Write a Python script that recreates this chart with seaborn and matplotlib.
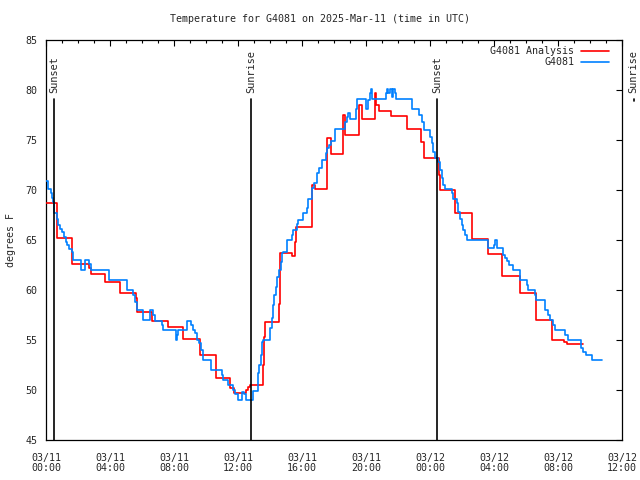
import pandas as pd
import numpy as np
import matplotlib
matplotlib.use("Agg")
import matplotlib.pyplot as plt
import matplotlib.dates as mdates
import seaborn as sns

START = pd.Timestamp("2025-03-11 00:00")

# hourly analysis (hours after 03/11 00:00 UTC, deg F)
analysis_hours = [0.0, 0.67, 1.65, 2.71, 2.79, 3.69, 4.63, 5.6, 5.7, 6.6, 7.65, 8.58,
                  9.63, 10.63, 11.5, 11.75, 12.5, 12.62, 12.72, 13.58, 13.62, 13.67,
                  14.58, 14.62, 15.35, 15.58, 15.62, 16.6, 16.65, 16.8, 17.58, 17.79,
                  18.58, 18.68, 19.58, 19.75, 20.56, 20.65, 20.8, 21.56, 22.58, 23.42,
                  23.6, 24.56, 24.65, 25.56, 26.6, 27.65, 28.48, 29.6, 30.63, 31.6,
                  32.4, 32.55, 33.58]
analysis_temps = [68.67, 65.17, 62.57, 62.23, 61.6, 60.8, 59.67, 59.2, 57.8, 56.93, 56.27, 55.1,
                  53.5, 51.17, 50.17, 49.67, 50.0, 50.3, 50.5, 52.5, 55.33, 56.83,
                  58.6, 63.67, 63.4, 64.83, 66.27, 67.5, 70.5, 70.1, 75.2, 73.6,
                  77.5, 75.5, 78.5, 77.07, 79.7, 78.5, 77.9, 77.4, 76.1, 74.8,
                  73.2, 71.5, 70.0, 67.7, 65.1, 63.6, 61.4, 59.7, 57.0, 55.0,
                  54.8, 54.6, 54.6]

# station observations
obs_hours = [0.0, 0.1, 0.29, 0.4, 0.46, 0.52, 0.67, 0.77, 0.88, 1.02, 1.13, 1.23, 1.33,
             1.46, 1.6, 1.71, 2.17, 2.42, 2.67, 2.79, 3.96, 5.04, 5.46, 5.56, 5.67,
             6.04, 6.5, 6.71, 6.81, 7.23, 7.33, 8.13, 8.2, 8.27, 8.79, 9.06, 9.21,
             9.31, 9.46, 9.58, 9.69, 9.83, 10.29, 10.98, 11.08, 11.4, 11.71, 11.81,
             12.02, 12.25, 12.38, 12.5, 12.92, 13.25, 13.33, 13.44, 13.52, 13.58,
             14.0, 14.1, 14.21, 14.27, 14.35, 14.46, 14.56, 14.67, 14.73, 14.83,
             15.04, 15.35, 15.46, 15.67, 15.77, 16.08, 16.29, 16.4, 16.6, 16.75,
             16.96, 17.04, 17.23, 17.5, 17.58, 17.71, 17.79, 18.06, 18.69, 18.79,
             18.9, 19.0, 19.38, 19.46, 20.0, 20.12, 20.25, 20.31, 20.4, 21.23, 21.29,
             21.4, 21.5, 21.6, 21.71, 21.81, 21.88, 22.85, 23.33, 23.48, 23.63,
             24.0, 24.1, 24.21, 24.31, 24.52, 24.63, 24.73, 24.83, 24.94, 25.35,
             25.46, 25.67, 25.77, 25.88, 25.98, 26.08, 26.19, 26.29, 27.65, 27.98,
             28.08, 28.19, 28.58, 28.69, 28.79, 28.96, 29.17, 29.63, 30.04, 30.15,
             30.56, 30.63, 31.19, 31.4, 31.5, 31.71, 31.81, 32.44, 32.65, 33.42,
             33.56, 33.77, 34.1, 34.73]
obs_temps = [70.9, 70.07, 69.73, 69.17, 68.83, 67.67, 67.07, 66.5, 66.07, 65.83, 65.33, 64.83, 64.5,
             64.1, 63.83, 63.0, 62.0, 63.0, 62.6, 62.0, 61.0, 60.0, 59.5, 58.83, 58.0,
             57.0, 58.0, 57.5, 56.93, 56.5, 56.0, 55.0, 55.5, 56.0, 56.93, 56.5, 56.0,
             55.67, 55.0, 54.67, 54.0, 53.0, 52.0, 51.5, 51.0, 50.5, 50.0, 49.6,
             49.0, 49.8, 49.6, 49.0, 49.93, 51.67, 52.5, 53.5, 54.83, 55.0,
             56.17, 57.17, 58.5, 59.5, 60.33, 61.33, 62.0, 62.83, 63.67, 63.83,
             65.0, 65.5, 66.0, 66.6, 67.0, 67.67, 68.17, 69.07, 70.17, 70.67,
             71.67, 72.17, 73.0, 73.67, 74.17, 74.5, 74.93, 76.07, 76.83, 77.33,
             77.73, 77.07, 78.07, 79.07, 78.07, 79.0, 79.67, 80.07, 79.07, 79.67, 80.07,
             79.67, 80.07, 79.33, 80.07, 79.67, 79.07, 78.07, 77.5, 76.83, 76.0,
             75.3, 74.7, 73.8, 73.2, 72.8, 72.0, 71.2, 70.5, 70.1, 69.7,
             69.1, 68.7, 67.8, 67.1, 66.5, 66.0, 65.5, 65.0, 64.17, 64.5,
             65.0, 64.17, 63.5, 63.2, 62.9, 62.5, 62.0, 61.0, 60.5, 60.0,
             59.5, 59.0, 58.0, 57.5, 57.0, 56.5, 56.0, 55.5, 55.0, 54.2,
             53.8, 53.5, 53.0, 53.0]

event_names = ["Sunset", "Sunrise", "Sunset", "Sunrise"]
event_hours = [0.52, 12.83, 24.46, 36.72]

TICK_HOURS = 4
FONT = "DejaVu Sans Mono"


def to_time(hours):
    return START + pd.to_timedelta(np.asarray(hours), unit="h")


analysis = pd.DataFrame({"time": to_time(analysis_hours), "temp": analysis_temps})
obs = pd.DataFrame({"time": to_time(obs_hours), "temp": obs_temps})

sns.set_theme(style="white")
plt.rcParams["font.family"] = [FONT]
plt.rcParams["font.size"] = 7.2

fig = plt.figure(figsize=(6.4, 4.8), dpi=100)
ax = fig.add_axes([46 / 640, 40 / 480, 576 / 640, 400 / 480])

red = "#ff0000"
blue = "#0080ff"

sns.lineplot(data=analysis, x="time", y="temp", ax=ax, color=red, linewidth=1.2,
             drawstyle="steps-post", estimator=None, zorder=3)
sns.lineplot(data=obs, x="time", y="temp", ax=ax, color=blue, linewidth=1.2,
             drawstyle="steps-post", estimator=None, zorder=4)

ax.set_xlim(START, START + pd.Timedelta(hours=36))
ax.set_ylim(45, 85)
ax.set_yticks(np.arange(45, 86, 5))

# sunrise / sunset markers
top_val = 79.1
for name, h in zip(event_names, event_hours):
    t = to_time([h])[0]
    if h <= 36:
        ax.plot([t, t], [45, top_val], color="black", linewidth=1.2, zorder=5)
    else:
        # outside the time range: only the label and the stub of the line
        ax.plot([t, t], [top_val, top_val - 0.25], color="black", linewidth=1.2,
                clip_on=False)
    ax.text(t, top_val + 0.6, name, rotation=90, ha="center", va="bottom",
            fontsize=7.4, clip_on=False)

ax.xaxis.set_major_locator(mdates.HourLocator(byhour=range(0, 24, TICK_HOURS)))
ax.xaxis.set_minor_locator(mdates.HourLocator())
ax.xaxis.set_major_formatter(mdates.DateFormatter("%m/%d\n%H:%M"))

ax.tick_params(axis="both", which="both", direction="in", top=True, right=True,
               color="black", width=0.8)
ax.tick_params(axis="both", which="major", length=4.5)
ax.tick_params(axis="x", which="minor", length=2.5)
ax.tick_params(axis="x", which="major", pad=9, labelsize=7.2)
ax.tick_params(axis="y", which="major", pad=6, labelsize=7.2)
for label in ax.get_xticklabels():
    label.set_linespacing(1.05)

for spine in ax.spines.values():
    spine.set_color("black")
    spine.set_linewidth(0.9)

ax.set_xlabel("")
ax.set_ylabel("")
fig.text(11 / 640, 0.5, "degrees F", rotation=90, ha="center", va="center",
         fontsize=7.2)
fig.text(0.5, 1 - 19 / 480, "Temperature for G4081 on 2025-Mar-11 (time in UTC)",
         ha="center", va="center", fontsize=7.2)

# gnuplot style key, text right aligned, sample after it
key_rows = [("G4081 Analysis", red, 0.973), ("G4081", blue, 0.944)]
for label, color, ky in key_rows:
    ax.text(0.9167, ky, label, transform=ax.transAxes, ha="right", va="center",
            fontsize=7.2)
    ax.plot([0.929, 0.977], [ky, ky], transform=ax.transAxes, color=color,
            linewidth=1.2)

fig.savefig("out.png", dpi=100)
